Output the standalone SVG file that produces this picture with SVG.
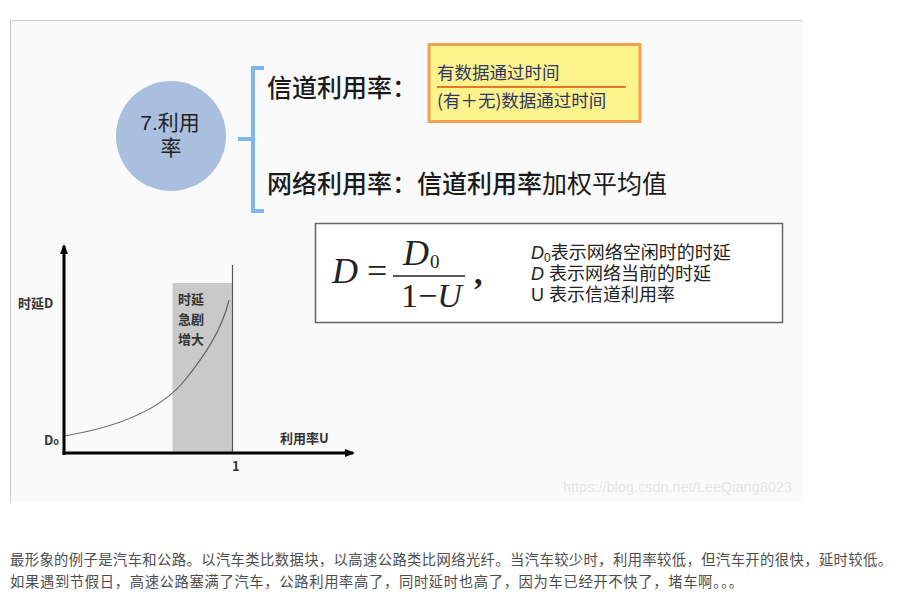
<svg xmlns="http://www.w3.org/2000/svg" width="913" height="614" viewBox="0 0 913 614">
<defs>
<style>
.cjk{font-family:"Noto Sans CJK SC","Noto Sans",sans-serif;}
.head{font-size:25px;fill:#1a1a1a;font-weight:500;}
.frac{font-size:17.5px;fill:#2d3566;}
.legend{font-family:"Liberation Sans","Noto Sans CJK SC",sans-serif;font-size:18px;fill:#222;}
.ctext{font-family:"Liberation Sans","Noto Sans CJK SC",sans-serif;font-size:21px;fill:#222;}
.glab{font-size:13px;fill:#333;font-weight:700;}
.math{font-family:"Liberation Serif","DejaVu Serif",serif;fill:#222;}
.body{font-size:14.3px;fill:#4d4d4d;}
</style>
<marker id="arr" markerWidth="10" markerHeight="10" refX="8" refY="5" orient="auto" markerUnits="userSpaceOnUse">
<path d="M0,1 L10,5 L0,9 Z" fill="#000"/>
</marker>
</defs>
<rect width="913" height="614" fill="#ffffff"/>
<g id="panel">
<rect x="10" y="20" width="793" height="483" fill="#fafafb"/>
<line x1="10.5" y1="20" x2="10.5" y2="503" stroke="#c9ccd3" stroke-width="1"/>
<line x1="10" y1="20.5" x2="803" y2="20.5" stroke="#c9ccd3" stroke-width="1"/>
</g>
<g id="node-circle">
<circle cx="171" cy="136" r="55" fill="#a9bfdd"/>
<text class="ctext" x="170" y="130" text-anchor="middle">7.利用</text>
<text class="ctext" x="171" y="155" text-anchor="middle">率</text>
</g>
<g id="connectors">
<path d="M264,68 L253,68 L253,211 L264,211 M253,139 L238,139" fill="none" stroke="#7fb6ec" stroke-width="4"/>
</g>
<g id="node-channel">
<text class="cjk head" x="267" y="97">信道利用率：</text>
</g>
<g id="node-fraction">
<rect x="429" y="44.5" width="211" height="77" fill="#fcf38c" stroke="#f0a24c" stroke-width="3"/>
<text class="cjk frac" x="437" y="79">有数据通过时间</text>
<line x1="437" y1="87" x2="626" y2="87" stroke="#e9742a" stroke-width="2"/>
<text class="cjk frac" x="437" y="107">(有＋无)数据通过时间</text>
</g>
<g id="node-network">
<text class="cjk head" x="267" y="193">网络利用率：信道利用率<tspan font-weight="400">加权平均值</tspan></text>
</g>
<g id="node-formula">
<rect x="315.5" y="223.5" width="467" height="99" fill="#ffffff" stroke="#666" stroke-width="1.5"/>
<text class="math" x="332" y="283" font-size="36"><tspan font-style="italic">D</tspan> =</text>
<text class="math" x="403" y="265" font-size="36" font-style="italic">D<tspan font-style="normal" font-size="19" dy="3" dx="1">0</tspan></text>
<line x1="393" y1="276" x2="465" y2="276" stroke="#222" stroke-width="1.6"/>
<text class="math" x="401" y="307" font-size="34">1−<tspan font-style="italic">U</tspan></text>
<text class="math" x="474" y="284" font-size="34" font-weight="700">,</text>
<text class="legend" x="531" y="259"><tspan font-style="italic">D</tspan><tspan font-size="12" dy="3">0</tspan><tspan dy="-3">表示网络空闲时的时延</tspan></text>
<text class="legend" x="531" y="280"><tspan font-style="italic">D</tspan> 表示网络当前的时延</text>
<text class="legend" x="531" y="301">U 表示信道利用率</text>
</g>
<g id="node-graph">
<rect x="172.5" y="283" width="60" height="170" fill="#c9c9c9"/>
<line x1="232.5" y1="265" x2="232.5" y2="453" stroke="#555" stroke-width="1.2"/>
<path d="M64,436 C130,425 165,405 185,380 C205,355 222,330 229,300" fill="none" stroke="#666" stroke-width="1.2"/>
<line x1="64" y1="455" x2="64" y2="246" stroke="#000" stroke-width="3" marker-end="url(#arr)"/>
<line x1="62.5" y1="453" x2="353" y2="453" stroke="#000" stroke-width="3" marker-end="url(#arr)"/>
<text class="cjk glab" x="18" y="308">时延D</text>
<text class="cjk glab" x="44" y="445">D<tspan font-size="9">o</tspan></text>
<text class="cjk glab" x="280" y="443">利用率U</text>
<text class="cjk glab" x="232" y="471">1</text>
<text class="cjk glab" x="178" y="304">时延</text>
<text class="cjk glab" x="178" y="324">急剧</text>
<text class="cjk glab" x="178" y="344">增大</text>
</g>
<g id="watermark">
<text x="563" y="492" font-family="Liberation Sans,Arial,sans-serif" font-size="14.5" fill="#e6e6e8">https://blog.csdn.net/LeeQiang8023</text>
</g>
<g id="caption">
<text class="cjk body" x="10" y="565" textLength="882" lengthAdjust="spacing">最形象的例子是汽车和公路。以汽车类比数据块，以高速公路类比网络光纤。当汽车较少时，利用率较低，但汽车开的很快，延时较低。</text>
<text class="cjk body" x="10" y="587" textLength="733" lengthAdjust="spacing">如果遇到节假日，高速公路塞满了汽车，公路利用率高了，同时延时也高了，因为车已经开不快了，堵车啊。。。</text>
</g>
</svg>
